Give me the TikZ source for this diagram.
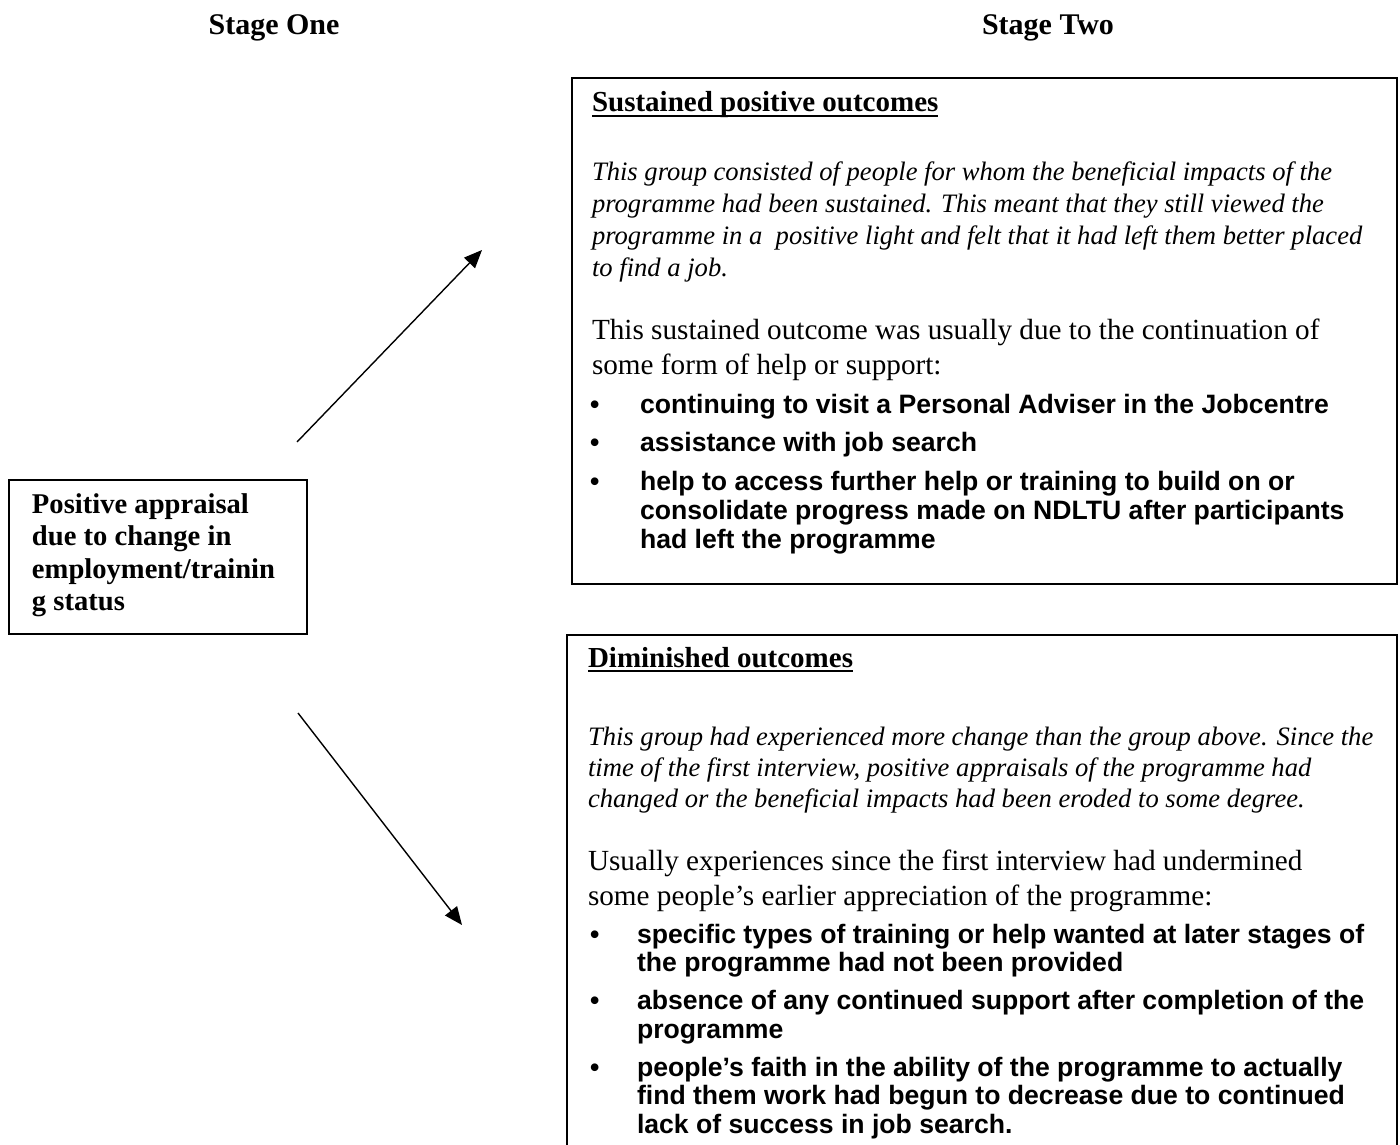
\documentclass[tikz,border=0pt]{standalone}
\usepackage{fontspec}
\setmainfont{Liberation Serif}
\newfontfamily\arialfont{Liberation Sans}
\usetikzlibrary{arrows.meta}
\tikzset{
  txt/.style={anchor=base west, inner sep=0pt, outer sep=0pt},
  stagehead/.style={anchor=base, inner sep=0pt, font=\fontsize{15}{17}\selectfont\bfseries},
  boxhead/.style={txt, font=\fontsize{14.5}{16}\selectfont\bfseries},
  ital/.style={txt, font=\fontsize{13.3}{16}\selectfont\itshape},
  reg/.style={txt, font=\fontsize{14.6}{16}\selectfont},
  bul/.style={txt, font=\arialfont\fontsize{13.3}{16}\selectfont\bfseries},
  lefttxt/.style={txt, font=\fontsize{14.3}{16}\selectfont\bfseries},
  frame/.style={draw, line width=1pt},
  uline/.style={line width=1pt},
  arr/.style={draw, line width=0.7pt, -{Triangle[length=9pt,width=7.5pt]}}
}
\begin{document}
\begin{tikzpicture}[x=0.5pt,y=-0.5pt]
\useasboundingbox (0,0) rectangle (1400,1144);

% stage headers
\node[stagehead] (st1) at (274,35) {Stage One};
\node[stagehead] (st2) at (1048,35) {Stage Two};

% left box
\draw[frame] (9,480) rectangle (307,634);
\node[lefttxt] (l1) at (32,513) {Positive appraisal};
\node[lefttxt] (l2) at (32,545.5) {due to change in};
\node[lefttxt] (l3) at (32,578) {employment/trainin};
\node[lefttxt] (l4) at (32,610.5) {g status};

% top box
\draw[frame] (572,78) rectangle (1397,584);
\node[boxhead] (h1) at (592,112) {Sustained positive outcomes};
\draw[uline] ([yshift=-2.2pt]h1.base west) -- ([yshift=-2.2pt]h1.base east);
\node[ital] (a1) at (592,181) {This group consisted of people for whom the beneficial impacts of the};
\node[ital] (a2) at (592,212.7) {programme had been sustained. This meant that they still viewed the};
\node[ital] (a3) at (592,244.4) {programme in a\ \ positive light and felt that it had left them better placed};
\node[ital] (a4) at (592,276.1) {to find a job.};
\node[reg] (a5) at (592,339) {This sustained outcome was usually due to the continuation of};
\node[reg] (a6) at (592,374) {some form of help or support:};
\node[bul] (ab1) at (590,413) {•};
\node[bul] (a7) at (640,413) {continuing to visit a Personal Adviser in the Jobcentre};
\node[bul] (ab2) at (590,451.5) {•};
\node[bul] (a8) at (640,451.5) {assistance with job search};
\node[bul] (ab3) at (590,490) {•};
\node[bul] (a9) at (640,490) {help to access further help or training to build on or};
\node[bul] (a10) at (640,519) {consolidate progress made on NDLTU after participants};
\node[bul] (a11) at (640,548.5) {had left the programme};

% bottom box (cut by the page edge)
\draw[frame] (567,1146) -- (567,635) -- (1397,635) -- (1397,1146);
\node[boxhead] (h2) at (588,667) {Diminished outcomes};
\draw[uline] ([yshift=-2.2pt]h2.base west) -- ([yshift=-2.2pt]h2.base east);
\node[ital] (b1) at (588,745) {This group had experienced more change than the group above. Since the};
\node[ital] (b2) at (588,776) {time of the first interview, positive appraisals of the programme had};
\node[ital] (b3) at (588,807) {changed or the beneficial impacts had been eroded to some degree.};
\node[reg] (b4) at (588,870) {Usually experiences since the first interview had undermined};
\node[reg] (b5) at (588,905) {some people’s earlier appreciation of the programme:};
\node[bul] (bb1) at (590,943) {•};
\node[bul] (b6) at (637,943) {specific types of training or help wanted at later stages of};
\node[bul] (b7) at (637,971.5) {the programme had not been provided};
\node[bul] (bb2) at (590,1009.5) {•};
\node[bul] (b8) at (637,1009.5) {absence of any continued support after completion of the};
\node[bul] (b9) at (637,1038) {programme};
\node[bul] (bb3) at (590,1076) {•};
\node[bul] (b10) at (637,1076) {people’s faith in the ability of the programme to actually};
\node[bul] (b11) at (637,1104.5) {find them work had begun to decrease due to continued};
\node[bul] (b12) at (637,1133) {lack of success in job search.};

% arrows
\coordinate (u0) at (297,442);
\coordinate (u1) at (482,250);
\coordinate (d0) at (298,713);
\coordinate (d1) at (462,925);
\draw[arr] (u0) -- (u1);
\draw[arr] (d0) -- (d1);
\end{tikzpicture}
\end{document}
